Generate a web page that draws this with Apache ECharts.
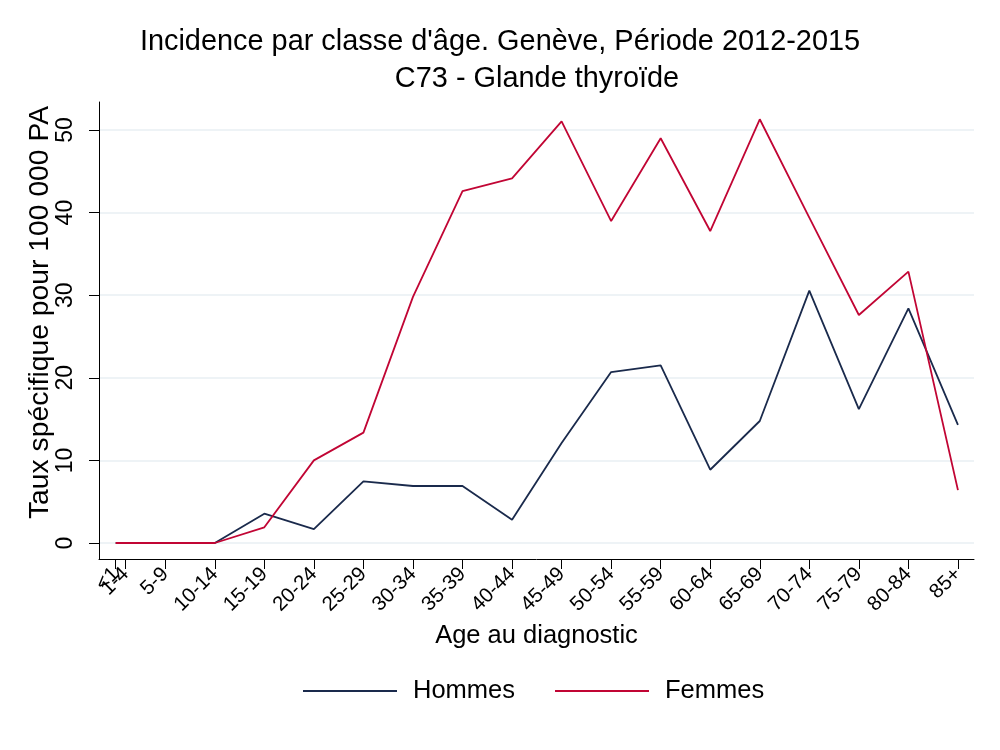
<!DOCTYPE html>
<html>
<head>
<meta charset="utf-8">
<script src="https://cdn.jsdelivr.net/npm/echarts@6/dist/echarts.min.js"></script>
<style>html,body{margin:0;padding:0;background:#fff;}#chart{width:1000px;height:750px;}</style>
</head>
<body>
<div id="chart"></div>
<script>
const ages = [0, 1, 5, 10, 15, 20, 25, 30, 35, 40, 45, 50, 55, 60, 65, 70, 75, 80, 85];
const ageLabels = ['<1', '1-4', '5-9', '10-14', '15-19', '20-24', '25-29', '30-34', '35-39', '40-44', '45-49', '50-54', '55-59', '60-64', '65-69', '70-74', '75-79', '80-84', '85+'];
const hommes = [0, 0, 0, 0, 3.55, 1.69, 7.47, 6.9, 6.9, 2.82, 12.1, 20.7, 21.5, 8.87, 14.77, 30.55, 16.2, 28.4, 14.3];
const femmes = [0, 0, 0, 0, 1.9, 10.0, 13.36, 29.8, 42.6, 44.15, 51.05, 38.98, 49.0, 37.77, 51.3, 39.4, 27.6, 32.85, 6.4];
const yTicks = [0, 10, 20, 30, 40, 50];

const FONT = 'Liberation Sans, Arial, sans-serif';
const chart = echarts.init(document.getElementById('chart'), null, {renderer: 'canvas'});
const pairs = arr => ages.map((a, i) => [a, arr[i]]);
const labelMap = {};
ages.forEach((a, i) => { labelMap[a] = ageLabels[i]; });
// labels alternate between two stacked axes so the overlapping "<1" and "1-4" both stay visible
const labelsA = ages.filter((a, i) => i % 2 === 0);
const labelsB = ages.filter((a, i) => i % 2 === 1);

const xLabelStyle = {rotate: 45, margin: 12, hideOverlap: false, showMinLabel: true, showMaxLabel: true,
  fontFamily: FONT, fontSize: 20.5, color: '#000',
  formatter: v => labelMap[v] !== undefined ? labelMap[v] : ''};
const xMin = -1.685, xMax = 86.62;

chart.setOption({
  backgroundColor: '#ffffff',
  animation: false,
  title: [
    {text: "Incidence par classe d'âge. Genève, Période 2012-2015", left: 500, textAlign: 'center', top: 28, padding: 0,
     textStyle: {fontFamily: FONT, fontSize: 28.9, fontWeight: 'normal', color: '#000'}},
    {text: 'C73 - Glande thyroïde', left: 537, textAlign: 'center', top: 65, padding: 0,
     textStyle: {fontFamily: FONT, fontSize: 28.9, fontWeight: 'normal', color: '#000'}}
  ],
  legend: {
    left: 303, top: 678, padding: 0,
    icon: 'rect', itemWidth: 94, itemHeight: 2, itemGap: 40,
    textStyle: {fontFamily: FONT, fontSize: 25.5, color: '#000', padding: [0, 0, 0, 11]},
    data: ['Hommes', 'Femmes']
  },
  grid: {left: 99, right: 26, top: 102, bottom: 191, containLabel: false},
  xAxis: [{
    type: 'value', min: xMin, max: xMax, position: 'bottom',
    name: 'Age au diagnostic', nameLocation: 'middle', nameGap: 64, nameMoveOverlap: false,
    nameTextStyle: {fontFamily: FONT, fontSize: 25.5, color: '#000'},
    axisLine: {onZero: false, lineStyle: {color: '#000', width: 1}},
    axisTick: {show: true, length: 10, customValues: ages, lineStyle: {color: '#000', width: 1}},
    axisLabel: Object.assign({customValues: labelsA}, xLabelStyle),
    splitLine: {show: false}
  }, {
    type: 'value', min: xMin, max: xMax, position: 'bottom', offset: 0,
    axisLine: {show: false, onZero: false},
    axisTick: {show: false},
    axisLabel: Object.assign({customValues: labelsB}, xLabelStyle),
    splitLine: {show: false}
  }],
  yAxis: {
    type: 'value', min: -1.937, max: 53.39,
    name: 'Taux spécifique pour 100 000 PA', nameLocation: 'middle', nameGap: 45, nameMoveOverlap: false,
    nameTextStyle: {fontFamily: FONT, fontSize: 28.3, color: '#000', padding: [0, 0, 0, 36]},
    axisLine: {show: true, onZero: false, lineStyle: {color: '#000', width: 1}},
    axisTick: {show: true, length: 10, customValues: yTicks, lineStyle: {color: '#000', width: 1}},
    axisLabel: {customValues: yTicks, rotate: 90, margin: 22, fontFamily: FONT, fontSize: 23, color: '#000'},
    splitLine: {show: true, lineStyle: {color: '#e9eff3', width: 1.5}}
  },
  series: [
    {name: 'Hommes', type: 'line', data: pairs(hommes), symbol: 'none', showSymbol: false,
     lineStyle: {color: '#1a2a4c', width: 1.8}, itemStyle: {color: '#1a2a4c'}},
    {name: 'Femmes', type: 'line', data: pairs(femmes), symbol: 'none', showSymbol: false,
     lineStyle: {color: '#c10534', width: 1.8}, itemStyle: {color: '#c10534'}}
  ]
});
</script>
</body>
</html>
